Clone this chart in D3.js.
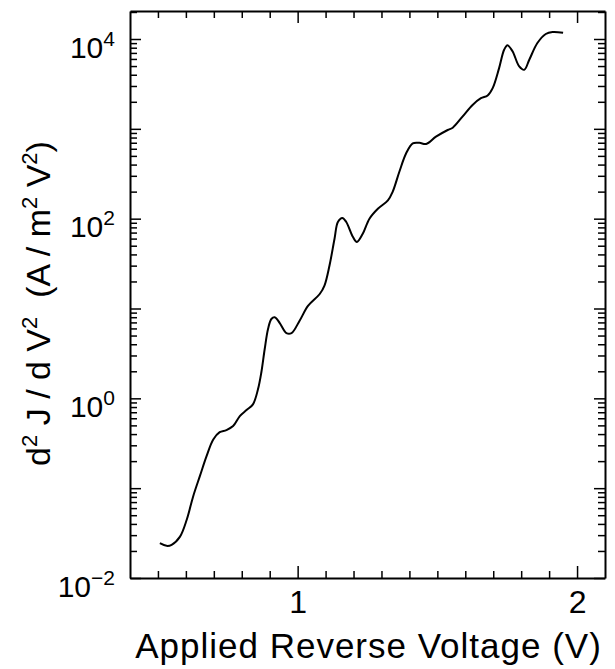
<!DOCTYPE html>
<html>
<head>
<meta charset="utf-8">
<script src="https://cdn.jsdelivr.net/npm/d3@7"></script>
<style>
	body { margin: 0; background: #fff; }
	svg { display: block; font-family: "Liberation Sans", Arial, Helvetica, sans-serif; }
</style>
</head>
<body>
<div id="chart"></div>
<script>
// applied reverse voltage (V)
const voltage = [
	0.507, 0.531, 0.549, 0.579, 0.603, 0.626, 0.650, 0.674, 0.698, 0.721,
	0.745, 0.769, 0.793, 0.817, 0.840, 0.858, 0.870, 0.882, 0.894, 0.906,
	0.918, 0.936, 0.960, 0.978, 1.007, 1.037, 1.079, 1.096, 1.114, 1.132,
	1.144, 1.160, 1.174, 1.198, 1.212, 1.233, 1.257, 1.287, 1.323, 1.340,
	1.364, 1.388, 1.412, 1.436, 1.460, 1.495, 1.537, 1.555, 1.590, 1.626,
	1.656, 1.680, 1.698, 1.721, 1.739, 1.751, 1.769, 1.793, 1.811, 1.829,
	1.858, 1.888, 1.912, 1.950
]
// d2J/dV2 (A / m2 V2)
const d2J = [
	0.0244, 0.0228, 0.0234, 0.0289, 0.0445, 0.0809, 0.136, 0.227, 0.348, 0.420,
	0.443, 0.491, 0.634, 0.740, 0.857, 1.26, 1.94, 3.52, 5.90, 7.64,
	7.98, 6.89, 5.32, 5.32, 7.31, 10.7, 14.5, 18.0, 30.1, 59.8,
	91.8, 102, 91.8, 62.4, 55.0, 67.9, 100, 129, 160, 199,
	333, 532, 689, 698, 679, 818, 971, 1030, 1368, 1845,
	2193, 2350, 2838, 4742, 7586, 8511, 7295, 4955, 4539, 5875,
	9016, 11376, 11967, 11749
]

const xDomain = [0.4, 2.1]
const yDomain = [1e-2, 2.05e4]
const xLabelTicks = [1, 2]
const xMinorTicks = [0.5, 0.6, 0.7, 0.8, 0.9, 1.1, 1.2, 1.3, 1.4, 1.5, 1.6, 1.7, 1.8, 1.9]
const yDecades = [-2, -1, 0, 1, 2, 3, 4]
const yLabelExponents = [-2, 0, 2, 4]

const width = 615, height = 669
const margin = {top: 11, right: 10, bottom: 91, left: 130}

const x = d3.scaleLinear(xDomain, [margin.left, width - margin.right])
const y = d3.scaleLog(yDomain, [height - margin.bottom, margin.top])

const svg = d3.select("#chart").append("svg")
	.attr("width", width)
	.attr("height", height)

const yMajor = yDecades.map(e => Math.pow(10, e))
const yTicks = []
yDecades.forEach(e => {
	for (let k = 1; k <= 9; k++) {
		const v = k * Math.pow(10, e)
		if (v < yDomain[1]) yTicks.push(v)
	}
})
const xTicks = xMinorTicks.concat(xLabelTicks)
const isDecade = d => yMajor.some(m => Math.abs(m - d) < 1e-9 * m)
const isUnit = d => xLabelTicks.includes(d)

function styleAxis(g) {
	g.selectAll(".domain").attr("stroke", "#000").attr("stroke-width", 2)
	g.selectAll(".tick line").attr("stroke", "#000").attr("stroke-width", 1.5)
}

// left
svg.append("g")
	.attr("transform", `translate(${margin.left},0)`)
	.call(d3.axisLeft(y).tickValues(yTicks).tickSizeInner(-6).tickSizeOuter(0).tickPadding(15).tickFormat(""))
	.call(styleAxis)
	.call(g => g.selectAll(".tick line").attr("x2", d => isDecade(d) ? 11 : 7))
	.call(g => g.selectAll(".tick text")
		.attr("font-size", 30)
		.attr("font-family", null)
		.attr("dy", "0.6em")
		.each(function (d) {
			if (!isDecade(d)) return
			const e = Math.round(Math.log10(d))
			if (!yLabelExponents.includes(e)) return
			const t = d3.select(this)
			t.append("tspan").text("10")
			t.append("tspan").attr("dy", -12).attr("font-size", 21).text(String(e).replace("-", "\u2212"))
		}))

// right
svg.append("g")
	.attr("transform", `translate(${width - margin.right},0)`)
	.call(d3.axisRight(y).tickValues(yTicks).tickSizeInner(-6).tickSizeOuter(0).tickFormat(""))
	.call(styleAxis)
	.call(g => g.selectAll(".tick line").attr("x2", d => isDecade(d) ? -11 : -7))

// bottom
svg.append("g")
	.attr("transform", `translate(0,${height - margin.bottom})`)
	.call(d3.axisBottom(x).tickValues(xTicks).tickSizeInner(-6).tickSizeOuter(0).tickPadding(12).tickFormat(d => isUnit(d) ? d3.format("d")(d) : ""))
	.call(styleAxis)
	.call(g => g.selectAll(".tick line").attr("y2", d => isUnit(d) ? -12 : -7))
	.call(g => g.selectAll(".tick text").attr("font-size", 32).attr("font-family", null))

// top
svg.append("g")
	.attr("transform", `translate(0,${margin.top})`)
	.call(d3.axisTop(x).tickValues(xTicks).tickSizeInner(-6).tickSizeOuter(0).tickFormat(""))
	.call(styleAxis)
	.call(g => g.selectAll(".tick line").attr("y2", d => isUnit(d) ? 12 : 7))

// curve
const line = d3.line()
	.x((d, i) => x(voltage[i]))
	.y(d => y(d))
	.curve(d3.curveCatmullRom.alpha(0.5))

svg.append("path")
	.datum(d2J)
	.attr("fill", "none")
	.attr("stroke", "#000")
	.attr("stroke-width", 2)
	.attr("stroke-linejoin", "round")
	.attr("d", line)

// axis titles
svg.append("text")
	.attr("x", (margin.left + width - margin.right) / 2 + 1)
	.attr("y", 658)
	.attr("text-anchor", "middle")
	.attr("font-size", 35)
	.attr("letter-spacing", 1)
	.text("Applied Reverse Voltage (V)")

const yTitle = svg.append("text")
	.attr("transform", `translate(50,${(margin.top + height - margin.bottom) / 2 + 9}) rotate(-90)`)
	.attr("text-anchor", "middle")
	.attr("font-size", 34)
const parts = [["d", 0], ["2", 1], [" J / d V", 0], ["2", 1], ["  (A / m", 0], ["2", 1], [" V", 0], ["2", 1], [")", 0]]
let raised = false
parts.forEach(([s, sup]) => {
	const ts = yTitle.append("tspan").text(s).style("white-space", "pre")
	if (sup && !raised) { ts.attr("dy", -13).attr("font-size", 22); raised = true }
	else if (sup) ts.attr("font-size", 22)
	else if (raised) { ts.attr("dy", 13); raised = false }
})
</script>
</body>
</html>
